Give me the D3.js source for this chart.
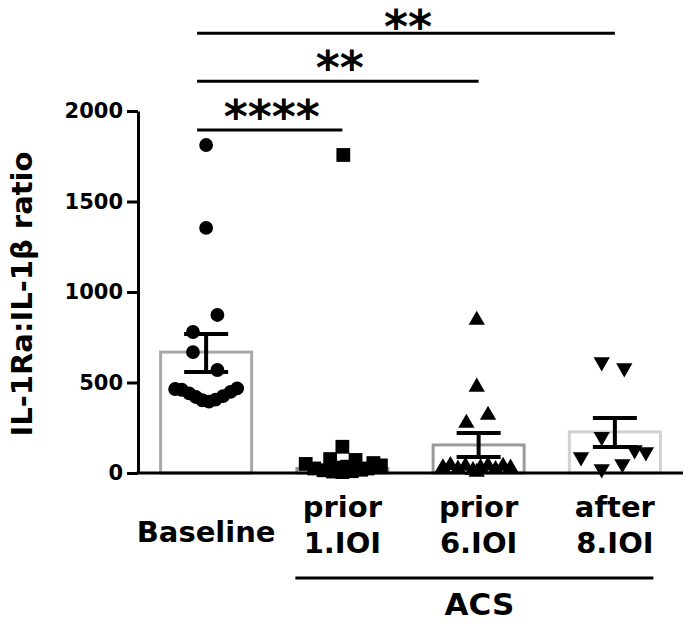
<!DOCTYPE html>
<html>
<head>
<meta charset="utf-8">
<script src="https://cdn.jsdelivr.net/npm/d3@7"></script>
<style>
  body { margin: 0; background: #fff; }
  text { font-family: "DejaVu Sans", sans-serif; font-weight: bold; fill: #000; }
</style>
</head>
<body>
<div id="chart"></div>
<script>
// groups and their (multi line) labels
var groups = ["Baseline", "prior 1.IOI", "prior 6.IOI", "after 8.IOI"];
var groupLines = [["Baseline"], ["prior", "1.IOI"], ["prior", "6.IOI"], ["after", "8.IOI"]];

// bar = mean, whiskers = mean +/- SEM
var means   = [668, 25, 155, 227];
var semLow  = [558, 18, 88, 144];
var semHigh = [768, 32, 221, 304];

var yTicks = [0, 500, 1000, 1500, 2000];

// individual values : [jitter as fraction of bar width, value]
var baselinePts = [[0, 1812], [0, 1354], [0.12, 873], [-0.14, 779], [-0.14, 668], [0.12, 569],
  [-0.33, 464], [-0.26, 460], [-0.18, 440], [-0.11, 420], [-0.04, 402], [0.03, 394],
  [0.10, 405], [0.18, 425], [0.26, 448], [0.33, 468]];
var prior1Pts = [[0.01, 1757], [0, 145], [-0.13, 77], [0.14, 72], [-0.39, 50], [0.33, 55],
  [0.41, 42], [-0.30, 25], [-0.20, 15], [-0.10, 8], [0, 5], [0.10, 10], [0.20, 18],
  [0.27, 25], [-0.05, 30], [0.05, 35]];
var prior6Pts = [[-0.02, 845], [-0.02, 475], [0.10, 320], [-0.13, 276],
  [-0.38, 30], [-0.30, 42], [-0.22, 22], [-0.14, 38], [-0.06, 15], [0.02, 30],
  [0.10, 40], [0.18, 20], [0.26, 38], [0.34, 28], [-0.02, 5]];
var after8Pts = [[-0.14, 613], [0.10, 580], [-0.14, 200], [-0.36, 88], [0.21, 127],
  [0.33, 116], [0.08, 50], [-0.14, 22]];
var allPts = [baselinePts, prior1Pts, prior6Pts, after8Pts];

// significance brackets (Baseline vs group)
var compTargets = ["prior 1.IOI", "prior 6.IOI", "after 8.IOI"];
var compLabels  = ["****", "**", "**"];
var compLevels  = [1895, 2165, 2430];

var barColors = ["#a8a8a8", "#999999", "#9a9a9a", "#d2d2d2"];
var symbols = [d3.symbolCircle, d3.symbolSquare, d3.symbolTriangle, d3.symbolTriangle];
var symbolSizes = [150, 190, 115, 115];

var W = 685, H = 623;
var svg = d3.select("#chart").append("svg")
    .attr("width", W)
    .attr("height", H);

var x = d3.scaleBand()
    .domain(groups)
    .range([138, 683])
    .paddingInner(0.31)
    .paddingOuter(0.155);

var y = d3.scaleLinear()
    .domain([0, 2000])
    .range([473, 111]);

var bw = x.bandwidth();

// bars (outline only)
svg.append("g").selectAll("rect")
  .data(groups)
  .enter().append("rect")
    .attr("x", function(d) { return x(d) + 1.5; })
    .attr("width", bw - 3)
    .attr("y", function(d, i) { return y(means[i]); })
    .attr("height", function(d, i) { return y(0) - y(means[i]); })
    .style("fill", "none")
    .style("stroke", function(d, i) { return barColors[i]; })
    .style("stroke-width", 3);

// points
groups.forEach(function(g, gi) {
  var cx = x(g) + bw / 2;
  svg.append("g").selectAll("path")
    .data(allPts[gi])
    .enter().append("path")
      .attr("d", d3.symbol().type(symbols[gi]).size(symbolSizes[gi]))
      .attr("transform", function(d) {
        var t = "translate(" + (cx + d[0] * bw) + "," + y(d[1]) + ")";
        if (gi == 3) t += " rotate(180)";
        return t;
      })
      .style("fill", "#000");
});

// error bars
var eb = svg.append("g").selectAll("g")
  .data(groups)
  .enter().append("g")
    .style("stroke", "#000")
    .style("stroke-width", 4);
eb.append("line")
    .attr("x1", function(d) { return x(d) + bw / 2; })
    .attr("x2", function(d) { return x(d) + bw / 2; })
    .attr("y1", function(d, i) { return y(semLow[i]); })
    .attr("y2", function(d, i) { return y(semHigh[i]); });
eb.selectAll(".cap")
  .data(function(d, i) { return [[d, semLow[i]], [d, semHigh[i]]]; })
  .enter().append("line")
    .attr("class", "cap")
    .attr("x1", function(d) { return x(d[0]) + bw / 2 - 22; })
    .attr("x2", function(d) { return x(d[0]) + bw / 2 + 22; })
    .attr("y1", function(d) { return y(d[1]); })
    .attr("y2", function(d) { return y(d[1]); });

// axes
var yAxis = d3.axisLeft(y).tickValues(yTicks).tickFormat(d3.format("d"))
    .tickSize(11).tickSizeOuter(0).tickPadding(4);
var gy = svg.append("g")
    .attr("transform", "translate(138,0)")
    .call(yAxis);
gy.selectAll("path, line").style("stroke", "#000").style("stroke-width", 3);
gy.selectAll("text").style("font-size", "21px").style("font-family", "'DejaVu Sans', sans-serif").style("font-weight", "bold");

var xAxis = d3.axisBottom(x).tickSize(0).tickSizeOuter(0).tickFormat("");
var gx = svg.append("g")
    .attr("transform", "translate(0," + y(0) + ")")
    .call(xAxis);
gx.select(".domain").attr("d", "M136.5,0H683").style("stroke", "#000").style("stroke-width", 3);

// category labels
groups.forEach(function(g, gi) {
  var lines = groupLines[gi];
  var t = svg.append("text")
      .attr("text-anchor", "middle")
      .style("font-size", "29px");
  if (lines.length == 1) {
    t.attr("x", x(g) + bw / 2).attr("y", 542).text(lines[0]);
  } else {
    lines.forEach(function(l, li) {
      t.append("tspan")
        .attr("x", x(g) + bw / 2)
        .attr("y", 517 + li * 36)
        .text(l);
    });
  }
});

// ACS group bracket
var acsX1 = x(groups[1]), acsX2 = x(groups[3]) + bw * 0.91;
svg.append("line")
    .attr("x1", acsX1).attr("x2", acsX2)
    .attr("y1", 578).attr("y2", 578)
    .style("stroke", "#000").style("stroke-width", 3);
svg.append("text")
    .attr("x", (acsX1 + acsX2) / 2 + 5)
    .attr("y", 615)
    .attr("text-anchor", "middle")
    .style("font-size", "31px")
    .text("ACS");

// y axis label
svg.append("text")
    .attr("transform", "translate(32,294) rotate(-90)")
    .attr("text-anchor", "middle")
    .style("font-size", "29px")
    .text("IL-1Ra:IL-1β ratio");

// significance lines
var sx = x("Baseline") + bw / 2 - 9;
compTargets.forEach(function(tg, ci) {
  var ex = x(tg) + bw / 2;
  var ly = y(compLevels[ci]);
  svg.append("line")
      .attr("x1", sx).attr("x2", ex)
      .attr("y1", ly).attr("y2", ly)
      .style("stroke", "#000").style("stroke-width", 3);
  svg.append("text")
      .attr("x", (sx + ex) / 2 + 2)
      .attr("y", Math.max(ly + 3, 43))
      .attr("text-anchor", "middle")
      .style("font-size", "46px")
      .text(compLabels[ci]);
});
</script>
</body>
</html>
